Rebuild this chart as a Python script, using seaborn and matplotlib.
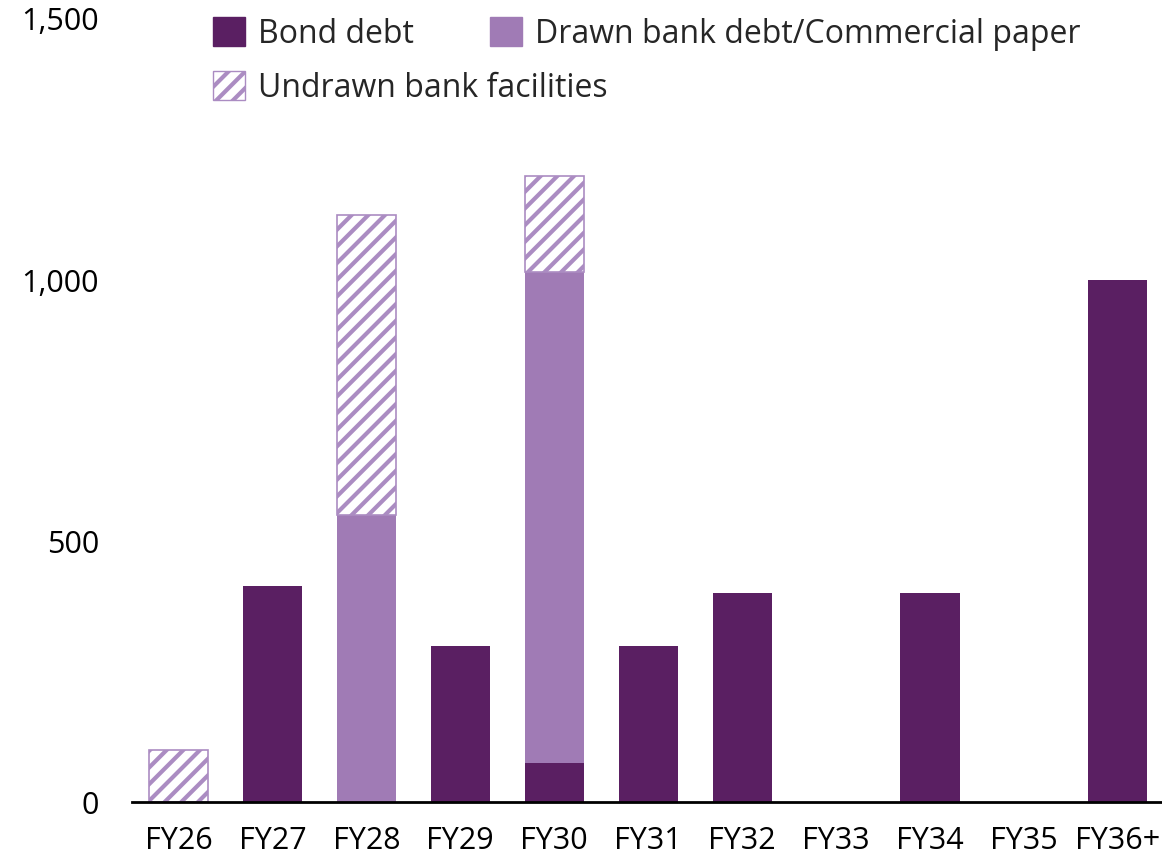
import matplotlib
matplotlib.use("Agg")
import matplotlib.pyplot as plt
import seaborn as sns
import pandas as pd
from matplotlib.ticker import FuncFormatter, FixedLocator
from matplotlib.patches import Patch

categories = ["FY26", "FY27", "FY28", "FY29", "FY30", "FY31", "FY32", "FY33", "FY34", "FY35", "FY36+"]
bond_debt = [0, 415, 0, 300, 75, 300, 400, 0, 400, 0, 1000]
drawn_bank = [0, 0, 550, 0, 940, 0, 0, 0, 0, 0, 0]
undrawn_bank = [100, 0, 575, 0, 185, 0, 0, 0, 0, 0, 0]
y_ticks = [0, 500, 1000, 1500]
series_labels = ["Bond debt", "Drawn bank debt/Commercial paper", "Undrawn bank facilities"]

BOND = "#5A1F62"
DRAWN = "#A07BB5"
HATCH_EDGE = "#AB8CC2"

sns.set_theme(style="white")
plt.rcParams["font.family"] = ["Open Sans", "DejaVu Sans"]
plt.rcParams["hatch.linewidth"] = 3.0

df = pd.DataFrame({"cat": categories, "bond": bond_debt, "drawn": drawn_bank, "undrawn": undrawn_bank})
df["base_drawn"] = df["bond"]
df["base_undrawn"] = df["bond"] + df["drawn"]

W, H = 1162, 859
fig = plt.figure(figsize=(W / 100, H / 100), dpi=100)
ax = fig.add_axes([0.114, 0.066, 0.886, 0.912])

w = 0.63


def layer(col, base_col, **kw):
    n0 = len(ax.patches)
    sns.barplot(data=df, x="cat", y=col, width=w, ax=ax, saturation=1, **kw)
    new = ax.patches[n0:]
    if base_col is not None:
        for p, b in zip(new, df[base_col].values):
            p.set_y(b)
    for p in new:
        if p.get_height() == 0:
            p.set_visible(False)
    return new


layer("bond", None, color=BOND, linewidth=0)
layer("drawn", "base_drawn", color=DRAWN, linewidth=0)
hp = layer("undrawn", "base_undrawn", color="white", edgecolor=HATCH_EDGE, linewidth=1.2, hatch="//")
for p in hp:
    if hasattr(p, "set_hatch_linewidth"):
        p.set_hatch_linewidth(3.0)

ax.set_ylim(0, 1500)
ax.set_xlim(-0.49, 10.47)
ax.yaxis.set_major_locator(FixedLocator(y_ticks))
ax.yaxis.set_major_formatter(FuncFormatter(lambda v, p: f"{int(v):,}"))
ax.set_xlabel("")
ax.set_ylabel("")
for s in ["top", "right", "left"]:
    ax.spines[s].set_visible(False)
ax.spines["bottom"].set_color("black")
ax.spines["bottom"].set_linewidth(2)
ax.tick_params(axis="both", length=0, labelsize=22, colors="black")
ax.tick_params(axis="y", pad=24)
ax.tick_params(axis="x", pad=17)

handles = [
    Patch(facecolor=BOND, edgecolor=BOND, label=series_labels[0]),
    Patch(facecolor=DRAWN, edgecolor=DRAWN, label=series_labels[1]),
    Patch(facecolor="white", edgecolor=HATCH_EDGE, hatch="//", label=series_labels[2]),
]
positions = [(213, 34), (490, 34), (213, 88)]
for h, (px, py) in zip(handles, positions):
    leg = fig.legend(handles=[h], loc="center left", bbox_to_anchor=(px / W, 1 - py / H),
                     frameon=False, fontsize=23, handlelength=1.0, handleheight=1.0,
                     handletextpad=0.42, borderpad=0, borderaxespad=0)
    for lh in leg.legend_handles:
        if hasattr(lh, "set_hatch_linewidth"):
            lh.set_hatch_linewidth(3.0)

fig.savefig("out.png", dpi=100)
